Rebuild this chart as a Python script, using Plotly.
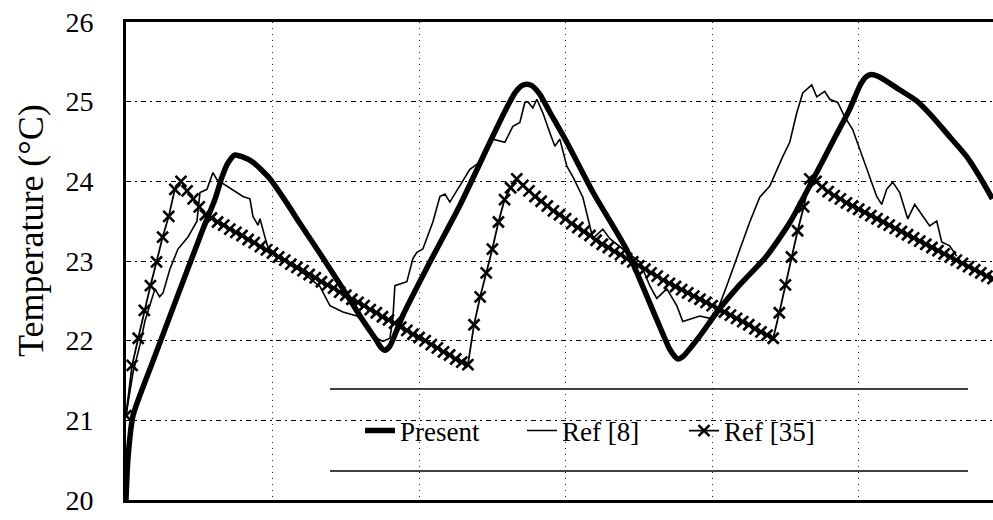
import plotly.graph_objects as go

# ---------------- data (time in hours, temperature in °C) ----------------
present_t = [0, 0.3, 1.15, 4.4, 12.6, 14.6, 15.7, 16.7, 17.8, 19.0, 20.8, 23.6, 26.4,
             28.5, 30.6, 33.0, 36.2, 39.1, 40.8, 41.7, 42.4, 43.2, 45.3, 49.8, 54.7, 59.6, 62.0,
             63.7, 64.8, 65.6, 66.5, 67.8, 69.4, 72.2, 76.5, 82.0, 86.9, 89.0, 89.9, 90.4,
             91.2, 94.0, 96.8, 100.5, 104.9, 108.7, 112.5, 116.1, 118.5, 120.2, 121.2,
             122.1, 123.4, 126.7, 129.5, 132.1, 134.9, 137.7, 139.8, 141.9]
present_T = [20.0, 20.5, 21.06, 21.74, 23.4, 23.78, 24.05, 24.23, 24.33, 24.31, 24.24, 24.03,
             23.72, 23.47, 23.23, 22.95, 22.57, 22.22, 22.03, 21.92, 21.88, 21.93, 22.31, 22.99,
             23.70, 24.49, 24.87, 25.11, 25.20, 25.22, 25.20, 25.09, 24.87, 24.49, 23.86, 23.14,
             22.27, 21.90, 21.80, 21.77, 21.80, 22.06, 22.36, 22.70, 23.06, 23.48, 24.02, 24.55,
             24.90, 25.20, 25.31, 25.34, 25.31, 25.15, 25.01, 24.81, 24.56, 24.31, 24.06,
             23.78]

ref8_t = [0, 1.15, 2.29, 3.11, 4.75, 5.5, 6.06, 7.2, 8.51, 10.15, 11.62, 12.12, 13.26, 14.24,
          14.9, 16.54, 17.52, 19.16, 20.3, 20.79, 21.61, 21.94, 22.76, 23.25, 25.21, 26.85,
          28.49, 31.76, 33.4, 35.53, 37.82, 39.46, 41.09, 42.08, 43.22, 43.71, 44.04, 46.0,
          46.99, 47.64, 48.62, 50.26, 51.41, 52.23, 53.04, 54.19, 56.32, 57.96, 59.1, 60.09,
          62.05, 63.36, 64.51, 65.32, 65.82, 66.63, 67.29, 68.27, 69.42, 70.24, 71.05, 72.2,
          73.18, 74.82, 75.97, 76.46, 78.09, 79.24, 82.02, 84.15, 85.79, 86.93, 88.57, 90.21,
          91.19, 92.83, 93.98, 95.61, 96.76, 98.4, 100.52, 102.16, 103.8, 105.44, 107.56,
          108.71, 109.86, 110.84, 112.31, 113.13, 114.44, 115.26, 116.57, 117.71, 119.02,
          120.66, 121.81, 122.95, 123.77, 124.59, 125.57, 126.72, 128.03, 129.18, 131.63,
          132.78, 133.6, 134.9, 136.05]
ref8_T = [21.06, 21.6, 21.95, 22.25, 22.65, 22.55, 22.6, 22.9, 23.15, 23.3, 23.5, 23.86, 23.9,
          24.11, 24.02, 23.94, 23.9, 23.81, 23.78, 23.56, 23.45, 23.53, 23.3, 23.17, 23.05,
          22.95, 22.88, 22.68, 22.44, 22.36, 22.31, 22.19, 22.03, 21.99, 22.03, 22.28, 22.69,
          22.74, 23.03, 23.11, 23.15, 23.49, 23.81, 23.84, 23.74, 23.88, 24.15, 24.24, 24.4,
          24.53, 24.49, 24.69, 24.74, 24.99, 25.0, 24.92, 25.03, 24.86, 24.61, 24.44, 24.53,
          24.19, 24.06, 23.8, 23.44, 23.28, 23.4, 23.28, 23.11, 22.99, 22.69, 22.53, 22.65,
          22.44, 22.24, 22.28, 22.31, 22.28, 22.36, 22.69, 23.15, 23.49, 23.8, 23.94, 24.31,
          24.49, 24.86, 25.11, 25.21, 25.06, 25.13, 25.03, 24.99, 24.81, 24.65, 24.31, 24.06,
          23.81, 23.71, 23.9, 23.99, 23.86, 23.53, 23.71, 23.44, 23.5, 23.24, 23.19, 23.06]

ref35_t = list(range(0, 143))  # hourly samples
ref35_T = [21.06, 21.69, 22.03, 22.38, 22.69, 22.99, 23.30, 23.56, 23.90, 24.00,   # 0-9
           23.88, 23.78, 23.68, 23.58, 23.54, 23.49, 23.45, 23.40, 23.36, 23.32,   # 10-19
           23.27, 23.23, 23.18, 23.14, 23.10, 23.05, 23.01, 22.96, 22.92, 22.88,   # 20-29
           22.83, 22.79, 22.74, 22.70, 22.66, 22.61, 22.57, 22.52, 22.48, 22.44,   # 30-39
           22.39, 22.35, 22.30, 22.26, 22.22, 22.17, 22.13, 22.08, 22.04, 22.00,   # 40-49
           21.95, 21.91, 21.86, 21.82, 21.77, 21.73, 21.70, 22.20, 22.55, 22.85,   # 50-59
           23.15, 23.49, 23.77, 23.92, 24.03, 23.95, 23.88, 23.81, 23.75, 23.69,   # 60-69
           23.63, 23.58, 23.53, 23.47, 23.42, 23.37, 23.32, 23.26, 23.21, 23.17,   # 70-79
           23.12, 23.08, 23.03, 22.99, 22.94, 22.90, 22.85, 22.81, 22.76, 22.72,   # 80-89
           22.68, 22.64, 22.60, 22.56, 22.52, 22.48, 22.44, 22.40, 22.36, 22.32,   # 90-99
           22.28, 22.24, 22.20, 22.15, 22.11, 22.07, 22.03, 22.35, 22.70, 23.05,   # 100-109
           23.38, 23.68, 24.03, 24.00, 23.93, 23.87, 23.82, 23.78, 23.73, 23.69,   # 110-119
           23.65, 23.61, 23.57, 23.53, 23.49, 23.45, 23.41, 23.37, 23.33, 23.29,   # 120-129
           23.25, 23.21, 23.17, 23.13, 23.09, 23.05, 23.01, 22.97, 22.93, 22.89,   # 130-139
           22.85, 22.81, 22.78]                                                    # 140-142

y_ticks = [20, 21, 22, 23, 24, 25, 26]
y_title = "Temperature (°C)"
names = ["Present", "Ref [8]", "Ref [35]"]

FONT = "Liberation Serif, Times New Roman, serif"

fig = go.Figure()
fig.add_trace(go.Scatter(x=present_t, y=present_T, mode="lines", name=names[0],
                         line=dict(color="black", width=5.5, shape="spline", smoothing=0.6)))
fig.add_trace(go.Scatter(x=ref8_t, y=ref8_T, mode="lines", name=names[1],
                         line=dict(color="black", width=1.6)))
fig.add_trace(go.Scatter(x=ref35_t, y=ref35_T, mode="lines+markers", name=names[2],
                         line=dict(color="black", width=1.8),
                         marker=dict(symbol="x-thin", size=11, color="black",
                                     line=dict(color="black", width=2.6))))

# legend box: white background hiding grid, with top/bottom rules only
x0p, x1p = (330 - 126) / 867, (968 - 126) / 867
y0p, y1p = (500 - 471) / 478, (500 - 389) / 478
fig.add_shape(type="rect", xref="paper", yref="paper", x0=x0p, x1=x1p, y0=y0p, y1=y1p,
              fillcolor="white", line=dict(width=0), layer="between")
for yy in (y0p, y1p):
    fig.add_shape(type="line", xref="paper", yref="paper", x0=x0p, x1=x1p, y0=yy, y1=yy,
                  line=dict(color="black", width=1.5), layer="above")

fig.add_annotation(text=y_title, xref="paper", yref="paper",
                   x=(31 - 126) / 867, y=(500 - 231) / 478, xanchor="center", yanchor="middle",
                   textangle=-90, showarrow=False, font=dict(family=FONT, size=36, color="black"))

fig.update_layout(
    width=993, height=520,
    margin=dict(l=126, r=0, t=22, b=20),
    paper_bgcolor="white", plot_bgcolor="white",
    font=dict(family=FONT, color="black"),
    showlegend=True,
    legend=dict(orientation="h", x=(360 - 126) / 867, xanchor="left",
                y=(500 - 431) / 478, yanchor="middle",
                bgcolor="rgba(0,0,0,0)", borderwidth=0,
                font=dict(family=FONT, size=27, color="black"),
                entrywidth=117, itemwidth=30),
    xaxis=dict(range=[0, 142], dtick=24, tick0=0, showticklabels=False, ticks="",
               showgrid=True, gridcolor="#222", gridwidth=1.3, griddash="1px,5px",
               showline=True, linecolor="black", linewidth=3, mirror=True, zeroline=False),
    yaxis=dict(range=[20, 26], tickvals=y_ticks, ticktext=[str(v) for v in y_ticks],
               ticks="", ticklabelstandoff=24,
               tickfont=dict(family=FONT, size=28, color="black"),
               showgrid=True, gridcolor="black", gridwidth=1.2, griddash="5px,4px,2px,4px",
               showline=True, linecolor="black", linewidth=3, mirror=False, zeroline=False),
)

fig.write_html("out.html", config={"displayModeBar": False},
               post_script="document.body.style.margin='0';document.body.style.padding='0';")
